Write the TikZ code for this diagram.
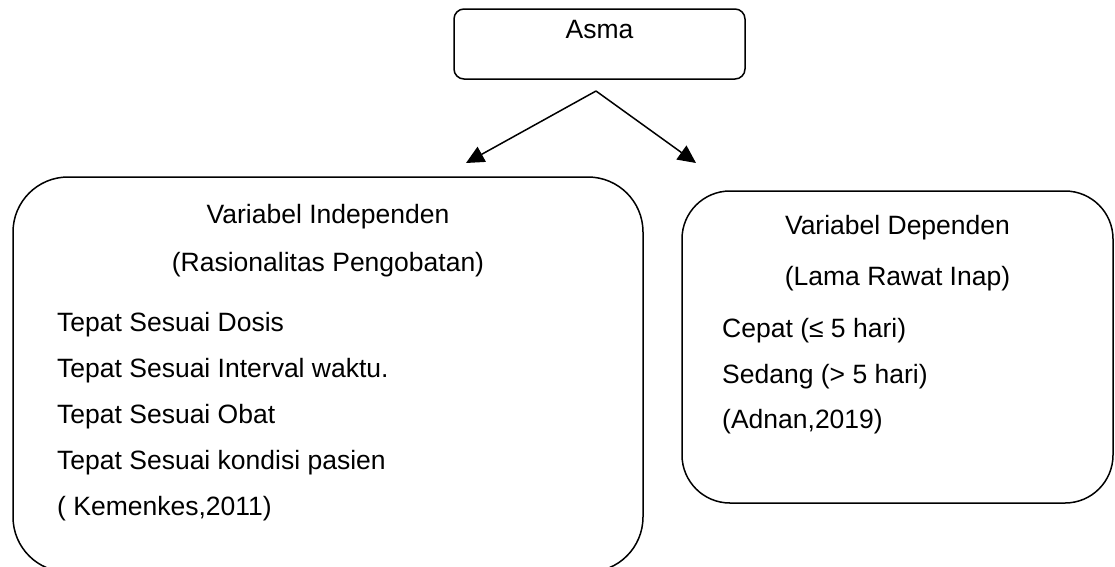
\documentclass[tikz,border=0pt]{standalone}
\usepackage{fontspec}
\setmainfont{Liberation Sans}
\usetikzlibrary{arrows.meta}
\begin{document}
\begin{tikzpicture}[x=1pt,y=-1pt,
  box/.style={draw, line width=1.5pt, inner sep=0pt},
  txt/.style={font=\fontsize{26.5}{31}\selectfont, inner sep=0pt, anchor=base},
  lst/.style={txt, anchor=base west},
  arr/.style={line width=1.5pt, -{Triangle[length=18pt,width=17pt]}}]
\useasboundingbox (0,0) rectangle (1115,566);
% boxes
\node[box, rounded corners=10pt, minimum width=291pt, minimum height=70pt] (asmabox) at (599.5,44) {};
\node[box, rounded corners=55pt, minimum width=630pt, minimum height=395pt] (indep) at (328,374.5) {};
\node[box, rounded corners=48pt, minimum width=431pt, minimum height=312pt] (dep) at (897.5,347) {};
% texts
\node[txt] (asma) at (599.5,38) {Asma};
\node[txt] (ih1) at (328,223) {Variabel Independen};
\node[txt] (ih2) at (328,271) {(Rasionalitas Pengobatan)};
\node[lst] (i1) at (57,331) {Tepat Sesuai Dosis};
\node[lst] (i2) at (57,377) {Tepat Sesuai Interval waktu.};
\node[lst] (i3) at (57,423) {Tepat Sesuai Obat};
\node[lst] (i4) at (57,469) {Tepat Sesuai kondisi pasien};
\node[lst] (i5) at (57,515) {( Kemenkes,2011)};
\node[txt] (dh1) at (897.5,234) {Variabel Dependen};
\node[txt] (dh2) at (897.5,285) {(Lama Rawat Inap)};
\node[lst] (d1) at (722,337) {Cepat (≤ 5 hari)};
\node[lst] (d2) at (722,383) {Sedang (> 5 hari)};
\node[lst] (d3) at (722,428) {(Adnan,2019)};
% arrows
\coordinate (apex) at (596,91);
\coordinate (tipL) at (466,163);
\coordinate (tipR) at (696,163);
\draw[arr] (apex) -- (tipL);
\draw[arr] (apex) -- (tipR);
\end{tikzpicture}
\end{document}
